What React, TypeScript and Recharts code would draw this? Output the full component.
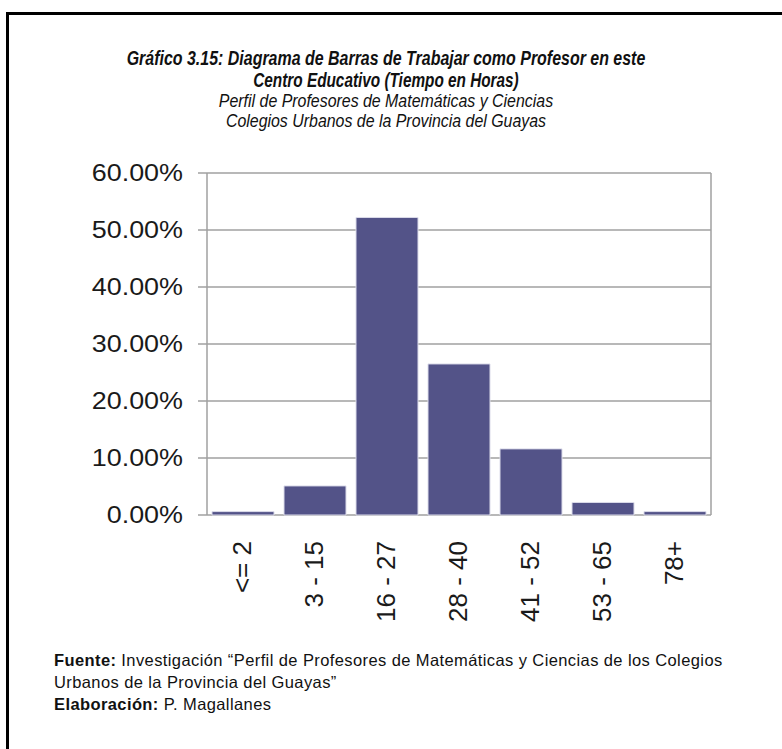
import React from 'react';
import { BarChart, Bar, XAxis, YAxis, CartesianGrid } from 'recharts';

const categories = ['<= 2', '3 - 15', '16 - 27', '28 - 40', '41 - 52', '53 - 65', '78+'];
const percentages = [0.6, 5.1, 52.2, 26.5, 11.6, 2.2, 0.6];
const yTicks = [0, 10, 20, 30, 40, 50, 60];
const edgeTicks = [0, 1, 2, 3, 4, 5, 6, 7];

const data = categories.map((range, i) => ({ range, pct: percentages[i] }));

const GRID = '#a0a0a0';
const BAR = '#535388';

const YTick = (props: any) => {
    const { x, y, payload } = props;
    return (
        <g transform={`translate(${x - 13},${y})`}>
            <text transform="scale(1.17,1)" textAnchor="end" dy="0.36em" fontSize={23}
                fontFamily="'Liberation Sans', Arial, sans-serif" fill="#1a1a1a">
                {payload.value.toFixed(2)}%
            </text>
        </g>
    );
};

const XTick = (props: any) => {
    const { x, y, payload } = props;
    return (
        <g transform={`translate(${x - 1},${y + 18})`}>
            <text transform="rotate(-90)" textAnchor="end" dy="0.36em" fontSize={26}
                fontFamily="'Liberation Sans', Arial, sans-serif" fill="#1a1a1a">
                {payload.value}
            </text>
        </g>
    );
};

const titleLine = (text: string, top: number, size: number, bold: boolean, sx: number, lh: number) => (
    <div style={{
        position: 'absolute', left: 0, width: 782, top, textAlign: 'center',
        fontFamily: "'Liberation Sans', Arial, sans-serif", fontStyle: 'italic',
        fontWeight: bold ? 'bold' : 'normal', fontSize: size, lineHeight: `${lh}px`,
        transform: `translateX(-5px) scaleX(${sx})`, color: '#111', whiteSpace: 'nowrap',
    }}>{text}</div>
);

export default function App() {
    return (
        <div style={{ position: 'absolute', left: 0, top: 0, width: 782, height: 749, overflow: 'hidden', background: '#fff' }}>
            <div style={{ position: 'absolute', left: 6, top: 12, width: 800, height: 760, borderTop: '3px solid #000', borderLeft: '3px solid #000' }} />
            {titleLine('Gráfico 3.15: Diagrama de Barras de Trabajar como Profesor en este', 47, 21, true, 0.76, 22)}
            {titleLine('Centro Educativo (Tiempo en Horas)', 69, 21, true, 0.73, 22)}
            {titleLine('Perfil de Profesores de Matemáticas y Ciencias', 91, 18.5, false, 0.86, 19)}
            {titleLine('Colegios Urbanos de la Provincia del Guayas', 111, 18.5, false, 0.86, 19)}

            <BarChart width={782} height={640} data={data} barCategoryGap={5}
                margin={{ top: 173, right: 71, bottom: 10, left: 0 }}
                style={{ position: 'absolute', left: 0, top: 0 }}>
                <CartesianGrid xAxisId="edge" stroke={GRID} strokeWidth={1.5} />
                <XAxis xAxisId="edge" type="number" domain={[0, 7]} ticks={edgeTicks} tick={false}
                    tickSize={10} height={0} axisLine={false} tickLine={{ stroke: GRID, strokeWidth: 1.5 }} />
                <XAxis xAxisId="cat" dataKey="range" interval={0} tick={<XTick />} tickLine={false}
                    axisLine={false} height={115} />
                <YAxis domain={[0, 60]} ticks={yTicks} width={207} tickSize={9} axisLine={false}
                    tickLine={{ stroke: GRID, strokeWidth: 1.5 }} tick={<YTick />} />
                <Bar xAxisId="cat" dataKey="pct" fill={BAR} stroke="#dcdcea" strokeWidth={1} isAnimationActive={false} />
            </BarChart>

            <div style={{
                position: 'absolute', left: 54, top: 649, width: 740,
                fontFamily: "'Liberation Sans', Arial, sans-serif", fontSize: 16.5, letterSpacing: 0.4,
                lineHeight: '22px', color: '#111', whiteSpace: 'nowrap',
            }}>
                <div><b>Fuente:</b> Investigación “Perfil de Profesores de Matemáticas y Ciencias de los Colegios</div>
                <div>Urbanos de la Provincia del Guayas”</div>
                <div><b>Elaboración:</b> P. Magallanes</div>
            </div>
        </div>
    );
}
